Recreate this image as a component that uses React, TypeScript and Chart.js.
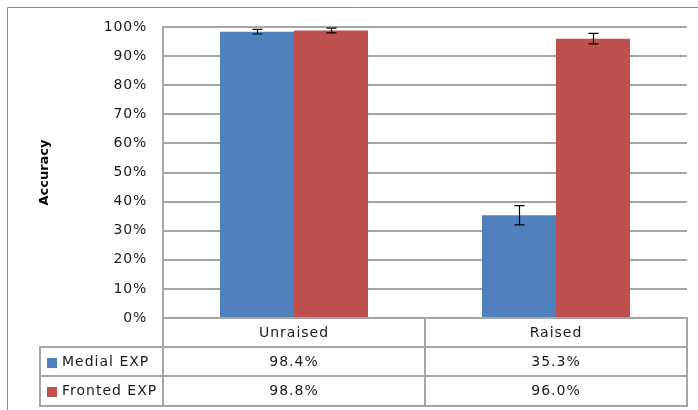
import React, { useEffect, useRef } from "react";
import { Chart, registerables } from "chart.js";

Chart.register(...registerables);

const categories = ["Unraised", "Raised"];
const seriesNames = ["Medial EXP", "Fronted EXP"];
const medialValues = [98.4, 35.3];
const frontedValues = [98.8, 96.0];
const medialErrors = [0.8, 3.3];
const frontedErrors = [0.8, 1.8];
const yTickValues = [0, 10, 20, 30, 40, 50, 60, 70, 80, 90, 100];
const seriesColors = ["#4F81BD", "#C0504D"];

const FONT = "'DejaVu Sans', Verdana, sans-serif";
const LINE = "#a6a6a6";

const spacingPlugin = {
  id: "spacing",
  beforeDraw(chart: any) {
    (chart.ctx as any).letterSpacing = "0.8px";
  },
  afterDatasetsDraw(chart: any) {
    (chart.ctx as any).letterSpacing = "0px";
  },
};

const errorBarPlugin = {
  id: "errorBars",
  afterDatasetsDraw(chart: any) {
    const { ctx, scales } = chart;
    const y = scales.y;
    ctx.save();
    ctx.strokeStyle = "#000";
    ctx.lineWidth = 1.2;
    chart.data.datasets.forEach((ds: any, i: number) => {
      const meta = chart.getDatasetMeta(i);
      meta.data.forEach((bar: any, j: number) => {
        const v = ds.data[j];
        const e = ds.errors[j];
        const top = y.getPixelForValue(v + e);
        const bot = y.getPixelForValue(v - e);
        const cx = Math.round(bar.x) + 0.5;
        ctx.beginPath();
        ctx.moveTo(cx, top);
        ctx.lineTo(cx, bot);
        ctx.moveTo(cx - 5, top);
        ctx.lineTo(cx + 5, top);
        ctx.moveTo(cx - 5, bot);
        ctx.lineTo(cx + 5, bot);
        ctx.stroke();
      });
    });
    ctx.restore();
  },
};

const tablePlugin = {
  id: "dataTable",
  afterDraw(chart: any) {
    const { ctx, chartArea: ca, scales } = chart;
    const x = scales.x;
    ctx.save();

    // outer chart border (left and top visible)
    ctx.strokeStyle = "#8c8c8c";
    ctx.lineWidth = 1;
    ctx.beginPath();
    ctx.moveTo(7.5, 410);
    ctx.lineTo(7.5, 7.5);
    ctx.lineTo(698, 7.5);
    ctx.stroke();

    const left = Math.round(ca.left);
    const right = Math.round(ca.right);
    const top0 = Math.round(ca.bottom);
    const rowH = 29;
    const legLeft = 40;
    const mid = Math.round((x.getPixelForValue(0) + x.getPixelForValue(1)) / 2);
    const r1 = top0 + rowH;
    const r2 = r1 + rowH;
    const r3 = r2 + rowH + 1;

    ctx.strokeStyle = LINE;
    ctx.lineWidth = 2;
    ctx.beginPath();
    ctx.moveTo(left, top0); ctx.lineTo(right, top0);
    ctx.moveTo(legLeft, r1); ctx.lineTo(right, r1);
    ctx.moveTo(legLeft, r2); ctx.lineTo(right, r2);
    ctx.moveTo(legLeft, r3); ctx.lineTo(right, r3);
    ctx.moveTo(legLeft, r1 - 1); ctx.lineTo(legLeft, r3 + 1);
    ctx.moveTo(left, top0); ctx.lineTo(left, r3 + 1);
    ctx.moveTo(mid, top0); ctx.lineTo(mid, r3 + 1);
    ctx.moveTo(right, top0 - 1); ctx.lineTo(right, r3 + 1);
    ctx.stroke();

    ctx.fillStyle = "#1a1a1a";
    ctx.font = `14px ${FONT}`;
    (ctx as any).letterSpacing = "1px";
    ctx.textBaseline = "middle";
    ctx.textAlign = "center";
    const colCenters = [(left + mid) / 2, (mid + right) / 2];
    categories.forEach((c, i) => {
      ctx.fillText(c, colCenters[i], top0 + rowH / 2 + 1);
    });
    const rows = [medialValues, frontedValues];
    rows.forEach((vals, r) => {
      const cy = top0 + rowH * (r + 1) + rowH / 2 + 1;
      vals.forEach((v, i) => {
        ctx.textAlign = "center";
        ctx.fillText(v.toFixed(1) + "%", colCenters[i], cy);
      });
      ctx.fillStyle = seriesColors[r];
      ctx.fillRect(47, Math.round(cy - 5), 10, 10);
      ctx.fillStyle = "#1a1a1a";
      ctx.textAlign = "left";
      ctx.fillText(seriesNames[r], 62, cy);
    });

    // y-axis title
    (ctx as any).letterSpacing = "0px";
    ctx.translate(45, (ca.top + ca.bottom) / 2);
    ctx.rotate(-Math.PI / 2);
    ctx.font = `bold 13px ${FONT}`;
    ctx.textAlign = "center";
    ctx.textBaseline = "middle";
    ctx.fillStyle = "#000";
    ctx.fillText("Accuracy", 0, 0);
    ctx.restore();
  },
};

export default function App() {
  const ref = useRef<HTMLCanvasElement>(null);
  useEffect(() => {
    if (!ref.current) return;
    const chart = new Chart(ref.current, {
      type: "bar",
      data: {
        labels: categories,
        datasets: [
          {
            label: seriesNames[0],
            data: medialValues,
            errors: medialErrors,
            backgroundColor: seriesColors[0],
            borderWidth: 0,
            categoryPercentage: 0.565,
            barPercentage: 1,
          } as any,
          {
            label: seriesNames[1],
            data: frontedValues,
            errors: frontedErrors,
            backgroundColor: seriesColors[1],
            borderWidth: 0,
            categoryPercentage: 0.565,
            barPercentage: 1,
          } as any,
        ],
      },
      options: {
        responsive: false,
        animation: false,
        layout: { padding: { left: 0, top: 27, right: 11, bottom: 92 } },
        plugins: {
          legend: { display: false },
          tooltip: { enabled: false },
          title: { display: false },
        },
        scales: {
          x: { display: false },
          y: {
            min: 0,
            max: 100,
            afterFit(scale: any) {
              scale.width = 163;
            },
            afterBuildTicks(scale: any) {
              scale.ticks = yTickValues.map((v) => ({ value: v }));
            },
            grid: { color: LINE, lineWidth: 2, drawTicks: false },
            border: { color: LINE, width: 2 },
            ticks: {
              padding: 16,
              color: "#1a1a1a",
              font: { family: "'DejaVu Sans', Verdana, sans-serif", size: 14 },
              callback: (v: any) => v + "%",
            },
          },
        },
      },
      plugins: [spacingPlugin, errorBarPlugin, tablePlugin],
    });
    return () => chart.destroy();
  }, []);
  return (
    <div style={{ position: "absolute", left: 0, top: 0, width: 698, height: 410, background: "#fff" }}>
      <canvas ref={ref} width={698} height={410} />
    </div>
  );
}
